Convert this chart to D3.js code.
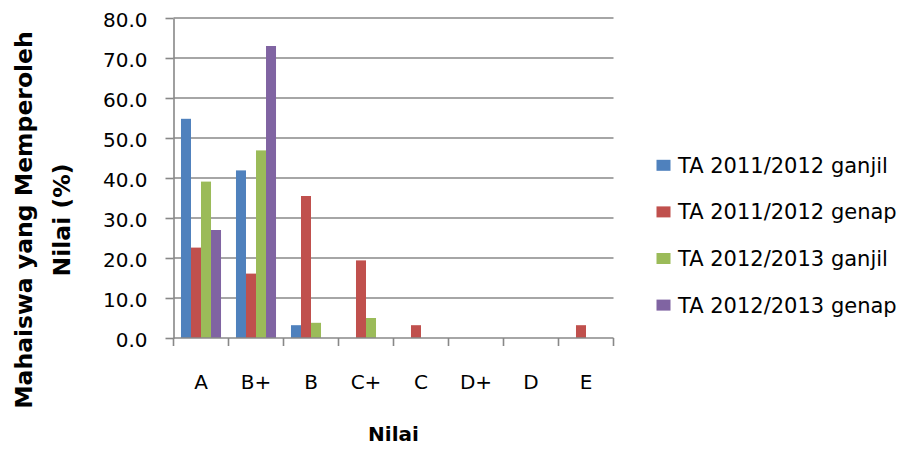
<!DOCTYPE html>
<html>
<head>
<meta charset="utf-8">
<script src="https://cdn.jsdelivr.net/npm/d3@7"></script>
<style>
  html, body { margin: 0; padding: 0; background: #fff; }
  svg { display: block; }
  text { font-family: "DejaVu Sans", sans-serif; fill: #000; }
</style>
</head>
<body>
<svg id="chart" width="907" height="449"></svg>
<script>
const categories = ["A", "B+", "B", "C+", "C", "D+", "D", "E"];
const seriesNames = ["TA 2011/2012 ganjil", "TA 2011/2012 genap", "TA 2012/2013 ganjil", "TA 2012/2013 genap"];
const s2011ganjil = [54.8, 41.9, 3.2, 0, 0, 0, 0, 0];
const s2011genap  = [22.6, 16.1, 35.5, 19.4, 3.2, 0, 0, 3.2];
const s2012ganjil = [39.1, 46.9, 3.8, 5.0, 0, 0, 0, 0];
const s2012genap  = [27.0, 73.0, 0, 0, 0, 0, 0, 0];
const yTicks = [0, 10, 20, 30, 40, 50, 60, 70, 80];
const colors = ["#4F81BD", "#C0504D", "#9BBB59", "#8064A2"];
const seriesValues = [s2011ganjil, s2011genap, s2012ganjil, s2012genap];

const svg = d3.select("#chart");
const pLeft = 173.5, pRight = 613.5, pTop = 18, pBottom = 338;

const x = d3.scaleBand().domain(categories).range([pLeft, pRight]).paddingInner(0).paddingOuter(0);
const xs = d3.scaleBand().domain(seriesNames).range([x.bandwidth() * 0.136, x.bandwidth() * 0.864]);
const y = d3.scaleLinear().domain([0, 80]).range([pBottom, pTop]);

// gridlines
svg.append("g").selectAll("line").data(yTicks.filter(d => d > 0)).join("line")
  .attr("x1", pLeft).attr("x2", pRight)
  .attr("y1", d => y(d)).attr("y2", d => y(d))
  .attr("stroke", "#888").attr("stroke-width", 1.6);

// bars
const data = [];
categories.forEach((c, i) => seriesNames.forEach((s, j) => data.push({c, s, j, v: seriesValues[j][i]})));
svg.append("g").selectAll("rect").data(data.filter(d => d.v > 0)).join("rect")
  .attr("x", d => x(d.c) + xs(d.s))
  .attr("width", xs.bandwidth())
  .attr("y", d => y(d.v))
  .attr("height", d => y(0) - y(d.v))
  .attr("fill", d => colors[d.j]);

// y axis
const yAxis = svg.append("g").attr("transform", `translate(${pLeft},0)`)
  .call(d3.axisLeft(y).tickValues(yTicks).tickFormat(d3.format(".1f")).tickSizeInner(8).tickSizeOuter(0).tickPadding(18));
yAxis.select(".domain").attr("stroke", "#888").attr("stroke-width", 1.6);
yAxis.selectAll(".tick line").attr("stroke", "#888").attr("stroke-width", 1.6);
yAxis.selectAll(".tick text").attr("font-size", 20).attr("font-family", "DejaVu Sans").attr("dy", "0.42em");

// x axis line and boundary ticks
const xg = svg.append("g");
xg.append("line").attr("x1", pLeft).attr("x2", pRight).attr("y1", pBottom).attr("y2", pBottom)
  .attr("stroke", "#888").attr("stroke-width", 1.6);
const bounds = categories.map(c => x(c)).concat([x(categories[categories.length - 1]) + x.bandwidth()]);
xg.selectAll("line.t").data(bounds).join("line").attr("class", "t")
  .attr("x1", d => d).attr("x2", d => d).attr("y1", pBottom).attr("y2", pBottom + 8)
  .attr("stroke", "#888").attr("stroke-width", 1.6);

const xAxis = svg.append("g").attr("transform", `translate(0,${pBottom})`)
  .call(d3.axisBottom(x).tickSize(0).tickPadding(0));
xAxis.select(".domain").remove();
xAxis.selectAll(".tick text").attr("font-size", 20).attr("font-family", "DejaVu Sans").attr("y", 51).attr("dy", 0);

// axis titles
svg.append("text").attr("x", (pLeft + pRight) / 2).attr("y", 441)
  .attr("text-anchor", "middle").attr("font-weight", "bold").attr("font-size", 20).text("Nilai");

const yt = svg.append("g").attr("transform", "translate(0,220) rotate(-90)");
yt.append("text").attr("x", 0).attr("y", 32).attr("text-anchor", "middle")
  .attr("font-weight", "bold").attr("font-size", 23.5).text("Mahaiswa yang Memperoleh");
yt.append("text").attr("x", 0).attr("y", 70).attr("text-anchor", "middle")
  .attr("font-weight", "bold").attr("font-size", 23.5).text("Nilai (%)");

// legend
const lg = svg.append("g").selectAll("g").data(seriesNames).join("g")
  .attr("transform", (d, i) => `translate(656.5,${165.3 + i * 46.6})`);
lg.append("rect").attr("x", 0).attr("y", -5.5).attr("width", 14).attr("height", 11)
  .attr("fill", (d, i) => colors[i]);
lg.append("text").attr("x", 21.5).attr("y", 0).attr("dy", "0.36em")
  .attr("font-size", 21).text(d => d);
</script>
</body>
</html>
